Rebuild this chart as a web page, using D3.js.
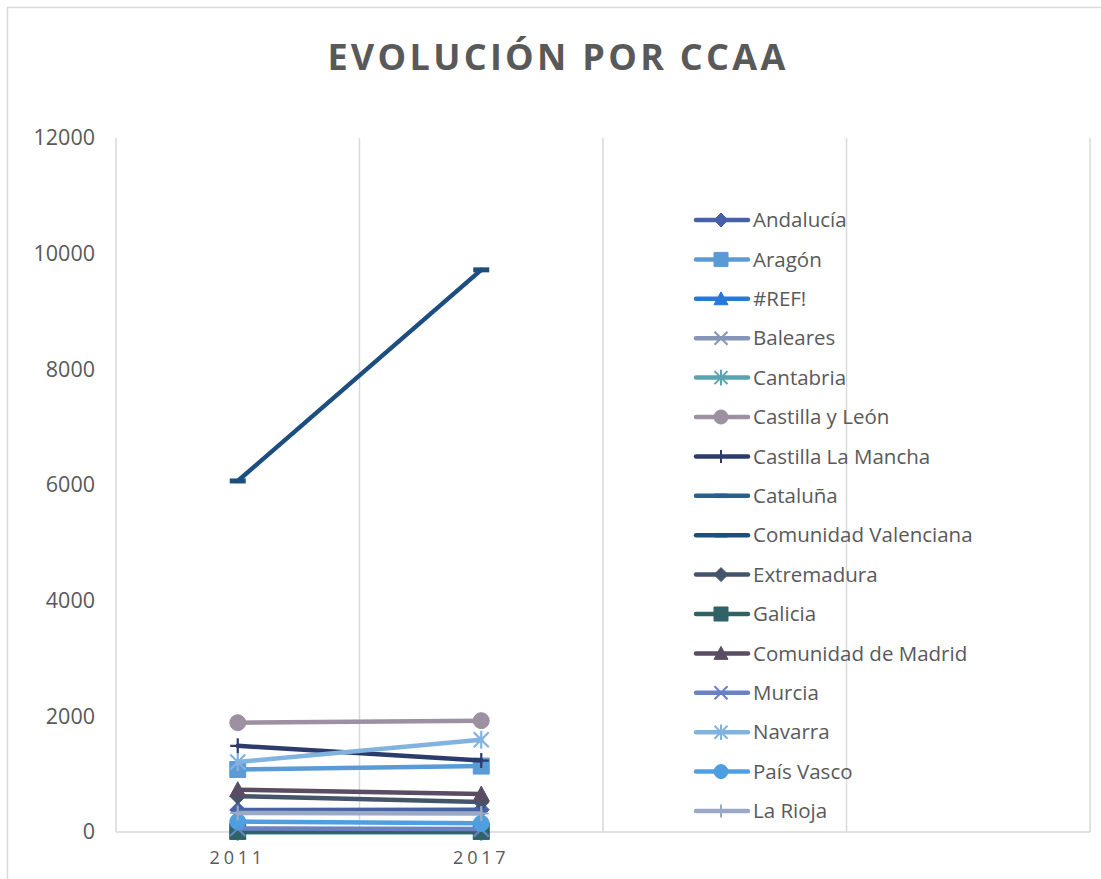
<!DOCTYPE html>
<html><head><meta charset="utf-8">
<script src="https://cdn.jsdelivr.net/npm/d3@7"></script>
<style>body{margin:0;background:#fff;} svg{display:block;}</style>
</head><body>
<svg id="c" width="1101" height="879"></svg>
<script>
const categories = ["2011", "2017", "", ""];
const seriesNames = ["Andalucía","Aragón","#REF!","Baleares","Cantabria","Castilla y León","Castilla La Mancha","Cataluña","Comunidad Valenciana","Extremadura","Galicia","Comunidad de Madrid","Murcia","Navarra","País Vasco","La Rioja"];
const values2011 = [380, 1080, 0, 20, 5, 1890, 1490, 0, 6070, 620, 10, 730, 60, 1210, 180, 330];
const values2017 = [385, 1140, 0, 15, 5, 1925, 1235, 0, 9720, 520, 10, 655, 50, 1595, 150, 320];
const seriesColors = ["#4661a8","#5b9bd5","#2878d8","#8596b8","#5ba3b0","#9e90a3","#2b3b6b","#26608f","#1c4e80","#44546a","#2f6366","#5a4c62","#6a82c4","#80b3e0","#4f9ee0","#9aa9c4"];
const seriesMarkers = ["diamond","square","triangle","x","star","circle","plus","dash","dash","diamond","square","triangle","x","star","circle","plus"];
const yTicks = [0, 2000, 4000, 6000, 8000, 10000, 12000];

const svg = d3.select("#c");
const font = "'Open Sans', sans-serif";

svg.append("rect").attr("x",7.5).attr("y",7.5).attr("width",1110).attr("height",900)
  .attr("fill","none").attr("stroke","#d9d9d9").attr("stroke-width",1.5);

svg.append("text").attr("x",558).attr("y",70).attr("text-anchor","middle")
  .attr("font-family",font).attr("font-weight","bold").attr("font-size",36)
  .attr("letter-spacing",3.3).attr("fill","#595959").text("EVOLUCIÓN POR CCAA");

const x = d3.scaleBand().domain(d3.range(categories.length)).range([116,1090]);
const y = d3.scaleLinear().domain([0,12000]).range([832,138]);

const bounds = d3.range(categories.length+1).map(i => i===categories.length ? x.range()[1] : x(i));
svg.append("g").selectAll("line").data(bounds).join("line")
  .attr("x1",d=>d).attr("x2",d=>d).attr("y1",y(12000)).attr("y2",y(0))
  .attr("stroke","#d9d9d9").attr("stroke-width",1.5);
svg.append("line").attr("x1",116).attr("x2",1090).attr("y1",y(0)).attr("y2",y(0))
  .attr("stroke","#d9d9d9").attr("stroke-width",1.5);

const yAxis = d3.axisLeft(y).tickValues(yTicks).tickSize(0).tickPadding(0).tickFormat(d3.format("d"));
const ya = svg.append("g").attr("transform","translate(95,0)").call(yAxis);
ya.select(".domain").remove();
ya.selectAll("text").attr("font-family",font).attr("font-size",21.5).attr("fill","#595959");

const xAxis = d3.axisBottom(x).tickFormat(i=>categories[i]).tickSize(0).tickPadding(0);
const xa = svg.append("g").attr("transform","translate(0,851)").call(xAxis);
xa.select(".domain").remove();
xa.selectAll("text").attr("font-family",font).attr("font-size",18).attr("letter-spacing",3.8).attr("fill","#595959").attr("dy","0.7em");

function markerPath(type, s) {
  const h = s/2;
  switch(type){
    case "diamond": return `M0,${-h}L${h},0L0,${h}L${-h},0Z`;
    case "square": return `M${-h},${-h}H${h}V${h}H${-h}Z`;
    case "triangle": return `M0,${-h}L${h},${h*0.85}L${-h},${h*0.85}Z`;
    case "circle": return d3.symbol(d3.symbolCircle, Math.PI*h*h)();
    case "x": return `M${-h},${-h}L${h},${h}M${h},${-h}L${-h},${h}`;
    case "star": return `M${-h},${-h}L${h},${h}M${h},${-h}L${-h},${h}M0,${-h*1.2}V${h*1.2}`;
    case "plus": return `M0,${-h}V${h}M${-h},0H${h}`;
    case "dash": return `M${-h},0H${h}`;
  }
}
function isStroke(t){ return t==="x"||t==="star"||t==="plus"||t==="dash"; }

const line = d3.line().x(d=>x(d.i)+x.bandwidth()/2).y(d=>y(d.v));
const gS = svg.append("g");
seriesNames.forEach((name,k)=>{
  const pts = [{i:0,v:values2011[k]},{i:1,v:values2017[k]}];
  const c = seriesColors[k], m = seriesMarkers[k];
  const g = gS.append("g");
  g.append("path").attr("d",line(pts)).attr("fill","none").attr("stroke",c).attr("stroke-width",4.5).attr("stroke-linecap","round");
  pts.forEach(p=>{
    const cx = x(p.i)+x.bandwidth()/2, cy = y(p.v);
    const s = m==="dash"?16:(isStroke(m)?15:16);
    g.append("path").attr("transform",`translate(${cx},${cy})`).attr("d",markerPath(m,s))
      .attr("fill",isStroke(m)?"none":c).attr("stroke",c).attr("stroke-width",isStroke(m)?(m==="dash"?5:2.2):1);
  });
});

const lg = svg.append("g");
seriesNames.forEach((name,k)=>{
  const cy = 220 + k*39.4;
  const c = seriesColors[k], m = seriesMarkers[k];
  lg.append("line").attr("x1",696).attr("x2",748).attr("y1",cy).attr("y2",cy).attr("stroke",c).attr("stroke-width",4.5).attr("stroke-linecap","round");
  const s = isStroke(m)?13:14;
  lg.append("path").attr("transform",`translate(721,${cy})`).attr("d",markerPath(m,s))
    .attr("fill",isStroke(m)?"none":c).attr("stroke",c).attr("stroke-width",isStroke(m)?(m==="dash"?4.5:2):1);
  lg.append("text").attr("x",753).attr("y",cy).attr("dy","0.35em")
    .attr("font-family",font).attr("font-size",20.5).attr("fill","#595959").text(name);
});
</script>
</body></html>
